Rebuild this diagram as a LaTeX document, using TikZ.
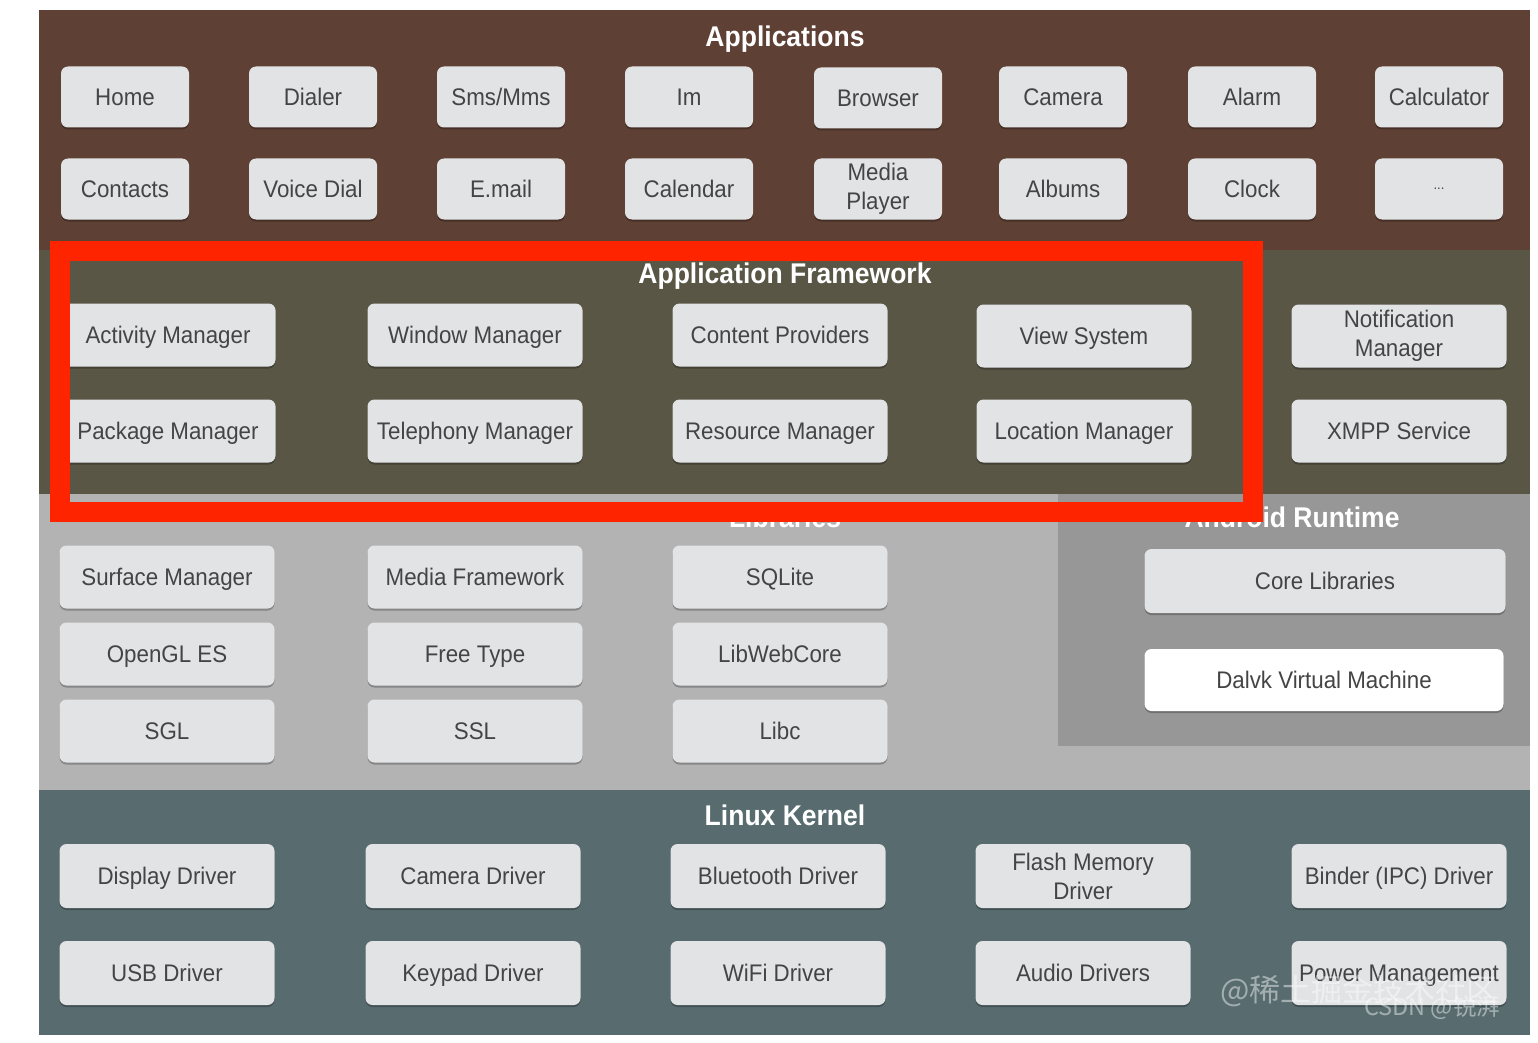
\documentclass[tikz,border=0pt]{standalone}
\usepackage{fontspec}
\setmainfont{Liberation Sans}[FakeStretch=0.93]
\newfontfamily\cjkfont{Noto Sans CJK SC}
\usetikzlibrary{shadows}
\definecolor{appbrown}{RGB}{94,64,52}
\definecolor{fwolive}{RGB}{89,86,70}
\definecolor{libgray}{RGB}{179,179,179}
\definecolor{artgray}{RGB}{151,151,151}
\definecolor{kernelc}{RGB}{88,108,112}
\definecolor{boxfill}{RGB}{225,227,229}
\definecolor{boxtext}{RGB}{68,68,68}
\definecolor{redbox}{RGB}{255,36,0}
\tikzset{
  box/.style={rounded corners=7pt, fill=boxfill, text=boxtext,
    font=\fontsize{24}{29}\selectfont, align=center, inner sep=0pt,
    drop shadow={shadow xshift=0pt, shadow yshift=-2pt, opacity=0.25, fill=black}},
  oneline/.style={text height=19pt, text depth=2pt},
  hdr/.style={text=white, font=\fontsize{28.5}{31}\selectfont\bfseries, inner sep=0pt,
    text height=22pt, text depth=2pt},
  awbox/.style={box, minimum width=128pt, minimum height=61pt},
  aw/.style={awbox, oneline},
  fwbox/.style={box, minimum width=215pt, minimum height=63pt},
  fw/.style={fwbox, oneline},
  wm/.style={text=white, opacity=0.45, inner sep=0pt}
}
\begin{document}
\begin{tikzpicture}[x=1pt,y=-1pt]
\useasboundingbox (0,0) rectangle (1538,1043);
\fill[white] (0,0) rectangle (1538,1043);
% bands
\fill[appbrown] (39,10) rectangle (1530,250);
\fill[fwolive] (39,250) rectangle (1530,494);
\fill[libgray] (39,494) rectangle (1530,790);
\fill[artgray] (1058,494) rectangle (1530,746);
\fill[kernelc] (39,790) rectangle (1530,1035);
% headers
\node[hdr] (happ) at (785,37) {Applications};
\node[hdr] (hfw) at (785,273) {Application Framework};
\node[hdr] (hlib) at (785,517) {Libraries};
\node[hdr] (hart) at (1292,517) {Android Runtime};
\node[hdr] (hker) at (785,815) {Linux Kernel};
% applications
\node[aw] (home) at (125,97) {Home};
\node[aw] (dialer) at (313,97) {Dialer};
\node[aw] (sms) at (501,97) {Sms/Mms};
\node[aw] (im) at (689,97) {Im};
\node[aw] (browser) at (878,98) {Browser};
\node[aw] (camera) at (1063,97) {Camera};
\node[aw] (alarm) at (1252,97) {Alarm};
\node[aw] (calc) at (1439,97) {Calculator};
\node[aw] (contacts) at (125,189) {Contacts};
\node[aw] (voice) at (313,189) {Voice Dial};
\node[aw] (email) at (501,189) {E.mail};
\node[aw] (calendar) at (689,189) {Calendar};
\node[awbox] (media) at (878,189) {Media\\Player};
\node[aw] (albums) at (1063,189) {Albums};
\node[aw] (clock) at (1252,189) {Clock};
\node[awbox] (more) at (1439,189) {\fontsize{14}{16}\selectfont ...};
% application framework
\node[fw] (activity) at (168,335) {Activity Manager};
\node[fw] (window) at (475,335) {Window Manager};
\node[fw] (content) at (780,335) {Content Providers};
\node[fw] (view) at (1084,336) {View System};
\node[fwbox] (notif) at (1399,336) {Notification\\Manager};
\node[fw] (package) at (168,431) {Package Manager};
\node[fw] (telephony) at (475,431) {Telephony Manager};
\node[fw] (resource) at (780,431) {Resource Manager};
\node[fw] (location) at (1084,431) {Location Manager};
\node[fw] (xmpp) at (1399,431) {XMPP Service};
% libraries
\node[fw] (surface) at (167,577) {Surface Manager};
\node[fw] (mediafw) at (475,577) {Media Framework};
\node[fw] (sqlite) at (780,577) {SQLite};
\node[fw] (opengl) at (167,654) {OpenGL ES};
\node[fw] (freetype) at (475,654) {Free Type};
\node[fw] (webcore) at (780,654) {LibWebCore};
\node[fw] (sgl) at (167,731) {SGL};
\node[fw] (ssl) at (475,731) {SSL};
\node[fw] (libc) at (780,731) {Libc};
% android runtime
\node[box, oneline, minimum width=361pt, minimum height=64pt] (core) at (1325,581) {Core Libraries};
\node[box, oneline, fill=white, minimum width=359pt, minimum height=62pt] (dalvik) at (1324,680) {Dalvk Virtual Machine};
% linux kernel
\node[fw, minimum height=64pt] (display) at (167,876) {Display Driver};
\node[fw, minimum height=64pt] (cameradrv) at (473,876) {Camera Driver};
\node[fw, minimum height=64pt] (bluetooth) at (778,876) {Bluetooth Driver};
\node[fwbox, minimum height=64pt] (flash) at (1083,876) {Flash Memory\\Driver};
\node[fw, minimum height=64pt] (binder) at (1399,876) {Binder (IPC) Driver};
\node[fw, minimum height=64pt] (usb) at (167,973) {USB Driver};
\node[fw, minimum height=64pt] (keypad) at (473,973) {Keypad Driver};
\node[fw, minimum height=64pt] (wifi) at (778,973) {WiFi Driver};
\node[fw, minimum height=64pt] (audio) at (1083,973) {Audio Drivers};
\node[fw, minimum height=64pt] (power) at (1399,973) {Power Management};
% red highlight
\draw[redbox, line width=20pt] (60,251) rectangle (1253,512);
% watermarks
\node[wm, font=\cjkfont\fontsize{31}{33}\selectfont] (wm1) at (1359,991) {@稀土掘金技术社区};
\node[wm, font=\cjkfont\fontsize{23.5}{25}\selectfont] (wm2) at (1432,1008) {CSDN @锐湃};
\end{tikzpicture}
\end{document}
